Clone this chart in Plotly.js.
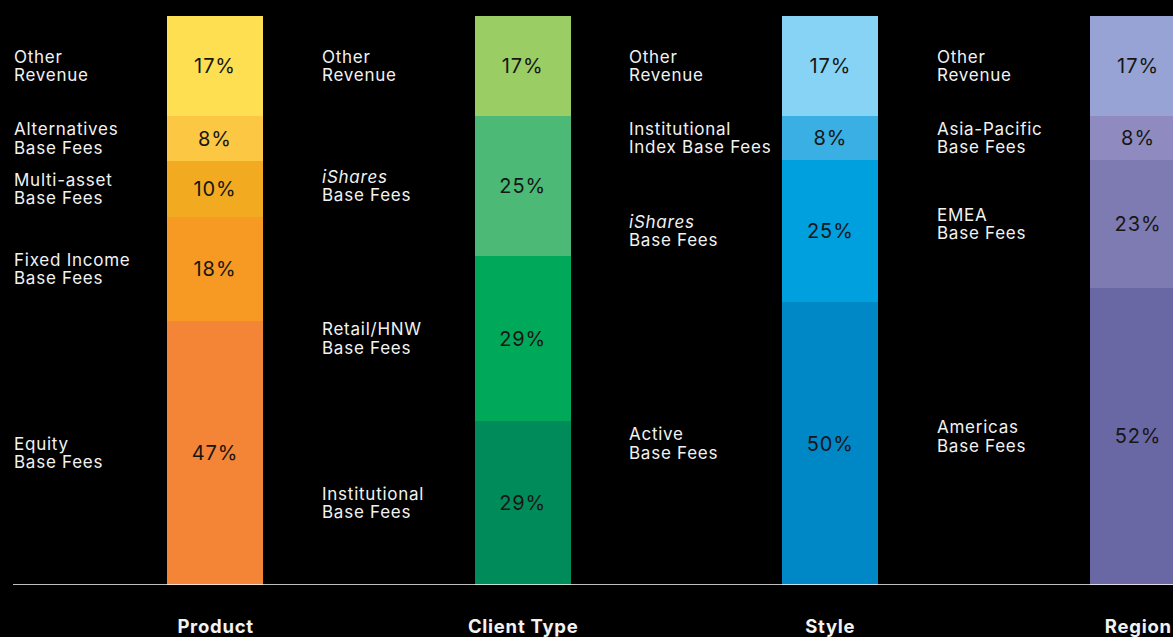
<!DOCTYPE html>
<html>
<head>
<meta charset="utf-8">
<script src="https://cdn.plot.ly/plotly-3.0.1.min.js"></script>
<style>
html,body{margin:0;padding:0;background:#000;}
#chart{width:1173px;height:637px;}
#chart text.annotation-text{letter-spacing:0.75px;}
#chart text.bartext{letter-spacing:0.9px;}
</style>
</head>
<body>
<div id="chart"></div>
<script>
// Categories (bar groups)
const categories = ['Product', 'Client Type', 'Style', 'Region'];

// Segments listed bottom to top
const productLabels = ['Equity<br>Base Fees', 'Fixed Income<br>Base Fees', 'Multi-asset<br>Base Fees', 'Alternatives<br>Base Fees', 'Other<br>Revenue'];
const productValues = [46.4, 18.3, 9.8, 7.9, 17.6];
const productText = ['47%', '18%', '10%', '8%', '17%'];
const productColors = ['#F58536', '#F79A23', '#F2AB20', '#FCC743', '#FEDF52'];

const clientLabels = ['Institutional<br>Base Fees', 'Retail/HNW<br>Base Fees', '<i>iShares</i><br>Base Fees', 'Other<br>Revenue'];
const clientValues = [28.8, 29.0, 24.6, 17.6];
const clientText = ['29%', '29%', '25%', '17%'];
const clientColors = ['#008C5A', '#00A85A', '#4CBA76', '#9ACD63'];

const styleLabels = ['Active<br>Base Fees', '<i>iShares</i><br>Base Fees', 'Institutional<br>Index Base Fees', 'Other<br>Revenue'];
const styleValues = [49.7, 25.0, 7.7, 17.6];
const styleText = ['50%', '25%', '8%', '17%'];
const styleColors = ['#0087C6', '#009FDD', '#3AAFE3', '#87D3F6'];

const regionLabels = ['Americas<br>Base Fees', 'EMEA<br>Base Fees', 'Asia-Pacific<br>Base Fees', 'Other<br>Revenue'];
const regionValues = [52.2, 22.5, 7.7, 17.6];
const regionText = ['52%', '23%', '8%', '17%'];
const regionColors = ['#6A67A5', '#7E7AB2', '#8F8BC0', '#96A3D4'];

const groups = [
  {labels: productLabels, values: productValues, text: productText, colors: productColors},
  {labels: clientLabels, values: clientValues, text: clientText, colors: clientColors},
  {labels: styleLabels, values: styleValues, text: styleText, colors: styleColors},
  {labels: regionLabels, values: regionValues, text: regionText, colors: regionColors}
];

const FONT = 'Inter, "Noto Sans", sans-serif';
const traces = [];
const annotations = [];

groups.forEach((g, gi) => {
  let cum = 0;
  g.values.forEach((v, si) => {
    traces.push({
      type: 'bar',
      x: [gi],
      y: [v],
      text: [g.text[si]],
      textposition: 'inside',
      insidetextanchor: 'middle',
      textangle: 0,
      constraintext: 'none',
      textfont: {family: FONT, size: 20, color: '#161616'},
      marker: {color: g.colors[si], line: {width: 0}},
      width: 0.312,
      hoverinfo: 'skip',
      showlegend: false
    });
    const mid = cum + v / 2;
    cum += v;
    const lines = g.labels[si].split('<br>');
    lines.forEach((ln, li) => {
      annotations.push({
        x: gi, xref: 'x', y: mid, yref: 'y',
        xanchor: 'left', yanchor: 'middle',
        xshift: -203,
        yshift: (lines.length - 1) * 9.3 - li * 18.6,
        text: ln, showarrow: false,
        align: 'left',
        font: {family: FONT, size: 17, color: '#F2F2F2'}
      });
    });
  });
  annotations.push({
    x: gi, xref: 'x', y: 0, yref: 'paper',
    xanchor: 'center', yanchor: 'middle', yshift: -41,
    text: '<b>' + categories[gi] + '</b>', showarrow: false,
    font: {family: FONT, size: 18.5, color: '#F2F2F2'}
  });
});

const layout = {
  width: 1173, height: 637,
  paper_bgcolor: '#000', plot_bgcolor: '#000',
  margin: {l: 0, r: 0, t: 16, b: 52},
  barmode: 'stack',
  bargap: 0,
  showlegend: false,
  xaxis: {range: [-0.6988, 3.1137], visible: false, fixedrange: true},
  yaxis: {range: [0, 100], visible: false, fixedrange: true},
  annotations: annotations,
  shapes: [{
    type: 'line', xref: 'paper', yref: 'y',
    x0: 13 / 1173, x1: 1, y0: 0, y1: 0,
    line: {color: '#FFFFFF', width: 1.5},
    layer: 'above'
  }]
};

Plotly.newPlot('chart', traces, layout, {staticPlot: true, displayModeBar: false});
</script>
</body>
</html>
